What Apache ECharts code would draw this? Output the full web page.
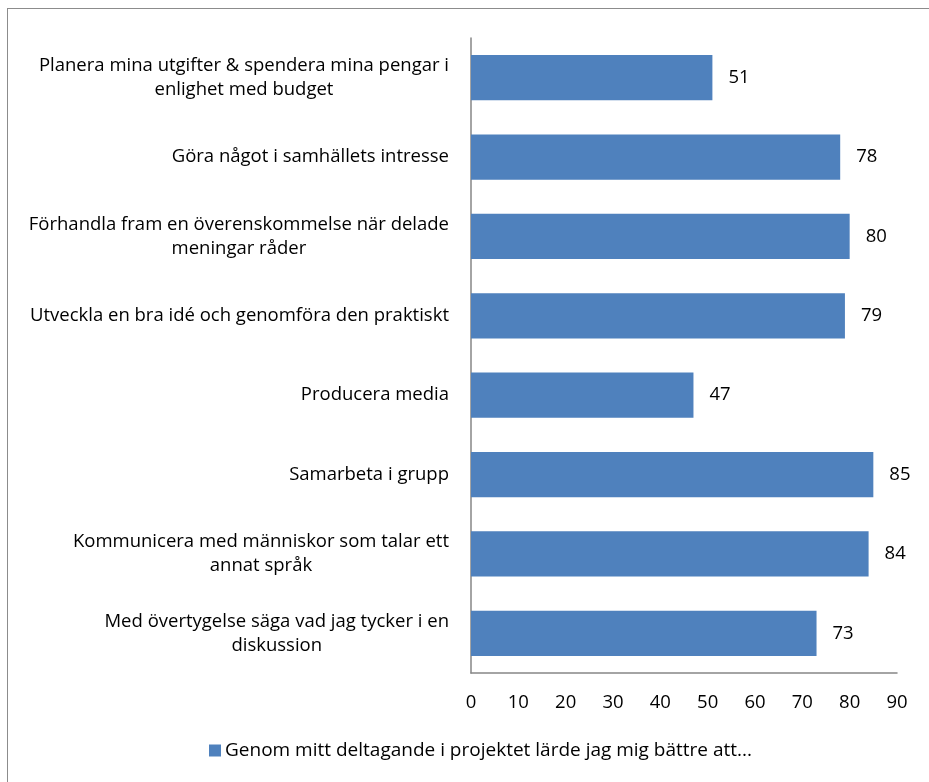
<!DOCTYPE html>
<html>
<head>
<meta charset="utf-8">
<script src="https://cdn.jsdelivr.net/npm/echarts@6/dist/echarts.min.js"></script>
<style>
html,body{margin:0;padding:0;background:#fff;}
#frame{position:absolute;left:7px;top:8px;width:960px;height:820px;border:1px solid #8c8c8c;box-sizing:border-box;}
#chart{position:absolute;left:0;top:0;width:929px;height:782px;}
</style>
</head>
<body>
<div id="frame"></div>
<div id="chart"></div>
<script>
const categories = [
  "Planera mina utgifter & spendera mina pengar i\nenlighet med budget",
  "Göra något i samhällets intresse",
  "Förhandla fram en överenskommelse när delade\nmeningar råder",
  "Utveckla en bra idé och genomföra den praktiskt",
  "Producera media",
  "Samarbeta i grupp",
  "Kommunicera med människor som talar ett\nannat språk",
  "Med övertygelse säga vad jag tycker i en\ndiskussion"
];
const values = [51, 78, 80, 79, 47, 85, 84, 73];
const seriesName = "Genom mitt deltagande i projektet lärde jag mig bättre att...";
const xTicks = [0, 10, 20, 30, 40, 50, 60, 70, 80, 90];

const FONT = "'Open Sans', sans-serif";
const FS = 18.5;
const canvas = document.createElement('canvas');
const ctx = canvas.getContext('2d');
ctx.font = FS + "px 'Open Sans'";
const rich = {};
categories.forEach((c, i) => {
  const lines = c.split('\n');
  const ws = lines.map(l => ctx.measureText(l).width);
  const mw = Math.max(...ws);
  lines.forEach((l, j) => {
    const p = (mw - ws[j]) / 2;
    rich['c' + i + '_' + j] = {padding: [0, p, 0, p], fontFamily: FONT, fontSize: FS, color: '#000', lineHeight: 24};
  });
});

const chart = echarts.init(document.getElementById('chart'), null, {renderer: 'canvas'});
chart.setOption({
  animation: false,
  backgroundColor: 'transparent',
  textStyle: {fontFamily: FONT},
  grid: {left: 471, right: 32, top: 38, bottom: 109, containLabel: false},
  legend: {
    bottom: 17, left: 204,
    itemWidth: 12, itemHeight: 12, itemGap: 5,
    icon: 'rect',
    textStyle: {fontFamily: FONT, fontSize: 19, color: '#000', padding: [0, 0, 0, -1]},
    data: [seriesName]
  },
  xAxis: {
    type: 'value', min: xTicks[0], max: xTicks[xTicks.length - 1], interval: 10,
    axisLine: {show: true, lineStyle: {color: '#868686', width: 1.5}},
    axisTick: {show: false},
    splitLine: {show: false},
    axisLabel: {fontFamily: FONT, fontSize: FS, color: '#000', margin: 20}
  },
  yAxis: {
    type: 'category', inverse: true, data: categories,
    axisLine: {show: true, lineStyle: {color: '#868686', width: 1.5}},
    axisTick: {show: false},
    axisLabel: {
      fontFamily: FONT, fontSize: FS, color: '#000', margin: 22, align: 'right',
      formatter: function (v) {
        const i = categories.indexOf(v);
        return v.split('\n').map((l, j) => '{c' + i + '_' + j + '|' + l + '}').join('\n');
      },
      rich: rich
    }
  },
  series: [{
    name: seriesName, type: 'bar', data: values,
    barCategoryGap: '43%',
    itemStyle: {color: '#4F81BD'},
    label: {show: true, position: 'right', distance: 16, fontFamily: FONT, fontSize: FS, color: '#000'}
  }]
});
</script>
</body>
</html>
